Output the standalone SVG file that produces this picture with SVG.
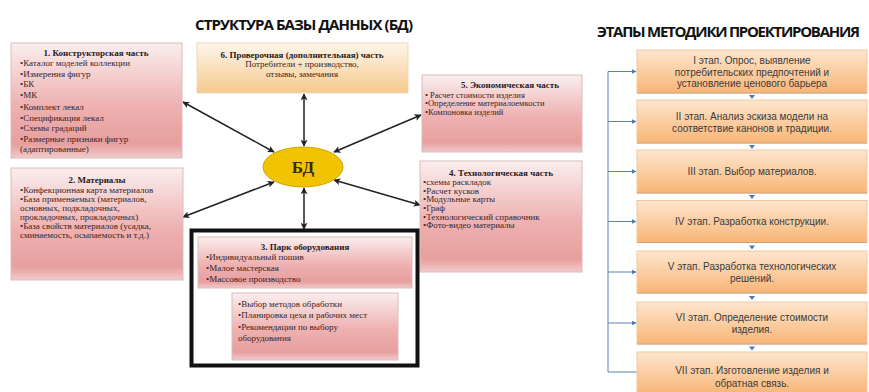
<svg xmlns="http://www.w3.org/2000/svg" width="869" height="392" viewBox="0 0 869 392">
<defs>
<linearGradient id="pink" x1="0" y1="0" x2="0" y2="1">
<stop offset="0" stop-color="#faeeee"/>
<stop offset="0.55" stop-color="#eeb0b0"/>
<stop offset="0.88" stop-color="#e79f9f"/>
<stop offset="1" stop-color="#f2caca"/>
</linearGradient>
<linearGradient id="gold" x1="0" y1="0" x2="0" y2="1">
<stop offset="0" stop-color="#fdf6ea"/>
<stop offset="1" stop-color="#f5c98d"/>
</linearGradient>
<linearGradient id="orange" x1="0" y1="0" x2="0" y2="1">
<stop offset="0" stop-color="#fde6cf"/>
<stop offset="1" stop-color="#f8b575"/>
</linearGradient>
<marker id="ah" viewBox="0 0 10 10" refX="9" refY="5" markerWidth="7" markerHeight="7" orient="auto-start-reverse" markerUnits="userSpaceOnUse">
<path d="M0,0 L10,5 L0,10 L2.5,5 Z" fill="#222"/>
</marker>
<marker id="bh" viewBox="0 0 10 10" refX="9" refY="5" markerWidth="5" markerHeight="5" orient="auto" markerUnits="userSpaceOnUse">
<path d="M0,0 L10,5 L0,10 Z" fill="#4a78b5"/>
</marker>
</defs>
<style>
.title{font-family:"Open Sans","Liberation Sans",sans-serif;font-weight:bold;font-size:15px;fill:#111}
.pbox{fill:url(#pink);stroke:#dcbcbc;stroke-width:1}
.gbox{fill:url(#gold);stroke:#ead9c0;stroke-width:1}
.sbox{fill:url(#orange);stroke:#f2c79c;stroke-width:1}
.shadow{stroke:#c9a07a;stroke-width:1.2}
.t{font-family:"Liberation Serif",serif;font-size:9px;fill:#3a2525}
.t5{font-family:"Liberation Serif",serif;font-size:8.5px;fill:#3a2525}
.th{font-family:"Liberation Serif",serif;font-size:9px;font-weight:bold;fill:#2a1a1a}
.s{font-family:"Liberation Sans",sans-serif;font-size:10px;fill:#3b3b3b;text-anchor:middle}
.arr{stroke:#222;stroke-width:1.5;fill:none;marker-start:url(#ah);marker-end:url(#ah)}
.fb{stroke:#5b82b8;stroke-width:1;fill:none}
.fba{stroke:#5b82b8;stroke-width:1;fill:none;marker-end:url(#bh)}
.dn{fill:#4a78b5}
</style>

<text class="title" x="195" y="30" textLength="218">СТРУКТУРА БАЗЫ ДАННЫХ (БД)</text>
<text class="title" x="597" y="37" textLength="263">ЭТАПЫ МЕТОДИКИ ПРОЕКТИРОВАНИЯ</text>

<g id="connectors">
<line class="arr" x1="183" y1="102" x2="274" y2="152"/>
<line class="arr" x1="304" y1="94" x2="304" y2="146"/>
<line class="arr" x1="421" y1="115" x2="334" y2="152"/>
<line class="arr" x1="183" y1="217" x2="274" y2="182"/>
<line class="arr" x1="420" y1="205" x2="334" y2="180"/>
<line class="arr" x1="304" y1="188" x2="304" y2="229"/>
<path class="fb" d="M637,372 H608 V71.5"/>
<line class="fba" x1="608" y1="71.5" x2="636" y2="71.5"/>
<line class="fba" x1="608" y1="121.5" x2="636" y2="121.5"/>
<line class="fba" x1="608" y1="171.5" x2="636" y2="171.5"/>
<line class="fba" x1="608" y1="221.5" x2="636" y2="221.5"/>
<line class="fba" x1="608" y1="272" x2="636" y2="272"/>
<line class="fba" x1="608" y1="323" x2="636" y2="323"/>
<polygon class="dn" points="749,95 755,95 752,99"/>
<polygon class="dn" points="749,145 755,145 752,149"/>
<polygon class="dn" points="749,195 755,195 752,199"/>
<polygon class="dn" points="749,245.5 755,245.5 752,249.5"/>
<polygon class="dn" points="749,296 755,296 752,300"/>
<polygon class="dn" points="749,346.5 755,346.5 752,350.5"/>
</g>

<g id="node-bd">
<ellipse cx="303" cy="167" rx="40" ry="20" fill="#f2c300" stroke="#d0a500" stroke-width="1"/>
<text x="303" y="173" text-anchor="middle" font-family="Liberation Serif,serif" font-weight="bold" font-size="17" fill="#3a2a00">БД</text>
</g>

<g id="node-1">
<rect class="pbox" x="11" y="43" width="171" height="115"/>
<text class="th" x="96" y="56" text-anchor="middle">1. Конструкторская часть</text>
<text class="t" x="20" y="66">•Каталог моделей коллекции</text>
<text class="t" x="20" y="76.5">•Измерения фигур</text>
<text class="t" x="20" y="87">•БК</text>
<text class="t" x="20" y="98">•МК</text>
<text class="t" x="20" y="110">•Комплект лекал</text>
<text class="t" x="20" y="121">•Спецификация лекал</text>
<text class="t" x="20" y="131">•Схемы градаций</text>
<text class="t" x="20" y="142">•Размерные признаки фигур</text>
<text class="t" x="20" y="151.5">(адаптированные)</text>
</g>

<g id="node-2">
<rect class="pbox" x="11" y="168" width="172" height="112"/>
<text class="th" x="97" y="183" text-anchor="middle">2. Материалы</text>
<text class="t" x="20" y="193">•Конфекционная карта материалов</text>
<text class="t" x="20" y="202">•База применяемых (материалов,</text>
<text class="t" x="20" y="211">основных, подкладочных,</text>
<text class="t" x="20" y="219.5">прокладочных, прокладочных)</text>
<text class="t" x="20" y="228.5">•База свойств материалов (усадка,</text>
<text class="t" x="20" y="237.5">сминаемость, осыпаемость и т.д.)</text>
</g>

<g id="node-6">
<rect class="gbox" x="197" y="43" width="211" height="50"/>
<text class="th" x="302" y="58" text-anchor="middle">6. Проверочная (дополнительная) часть</text>
<text class="t" x="302" y="67" text-anchor="middle">Потребители + производство,</text>
<text class="t" x="302" y="77" text-anchor="middle">отзывы, замечания</text>
</g>

<g id="node-5">
<rect class="pbox" x="422" y="75" width="160" height="77"/>
<text class="th" x="510" y="88" text-anchor="middle">5. Экономическая часть</text>
<text class="t5" x="425" y="97.5">• Расчет стоимости изделия</text>
<text class="t5" x="425" y="106">•Определение материалоемкости</text>
<text class="t5" x="425" y="114.5">•Компоновка изделий</text>
</g>

<g id="node-4">
<rect class="pbox" x="420" y="161" width="162" height="111"/>
<text class="th" x="501" y="176" text-anchor="middle">4. Технологическая часть</text>
<text class="t" x="423" y="184.5">•схемы раскладок</text>
<text class="t" x="423" y="193.5">•Расчет кусков</text>
<text class="t" x="423" y="202">•Модульные карты</text>
<text class="t" x="423" y="211">•Граф</text>
<text class="t" x="423" y="219.5">•Технологический справочник</text>
<text class="t" x="423" y="228">•Фото-видео материалы</text>
</g>

<g id="node-3">
<rect x="191.5" y="230.5" width="226" height="135" fill="#fff" stroke="#111" stroke-width="4"/>
<rect class="pbox" x="198" y="237" width="214" height="51"/>
<text class="th" x="305" y="250" text-anchor="middle">3. Парк оборудования</text>
<text class="t" x="206" y="260">•Индивидуальный пошив</text>
<text class="t" x="206" y="271">•Малое мастерская</text>
<text class="t" x="206" y="282">•Массовое производство</text>
<rect class="pbox" x="232" y="293" width="166" height="67"/>
<text class="t" x="238" y="307">•Выбор методов обработки</text>
<text class="t" x="238" y="318">•Планировка цеха и рабочих мест</text>
<text class="t" x="238" y="330">•Рекомендации по выбору</text>
<text class="t" x="238" y="341">оборудования</text>
</g>

<g id="stage-1">
<rect class="sbox" x="637" y="50" width="230" height="43"/>
<line class="shadow" x1="637" y1="93" x2="867" y2="93"/>
<text class="s" x="752" y="63.5">I этап. Опрос, выявление</text>
<text class="s" x="752" y="75.5">потребительских предпочтений и</text>
<text class="s" x="752" y="87">установление  ценового барьера</text>
</g>
<g id="stage-2">
<rect class="sbox" x="637" y="100" width="230" height="43"/>
<line class="shadow" x1="637" y1="143" x2="867" y2="143"/>
<text class="s" x="752" y="119.5">II этап. Анализ эскиза модели на</text>
<text class="s" x="752" y="131.5">соответствие канонов и традиции.</text>
</g>
<g id="stage-3">
<rect class="sbox" x="637" y="150" width="230" height="43"/>
<line class="shadow" x1="637" y1="193" x2="867" y2="193"/>
<text class="s" x="752" y="175">III этап. Выбор материалов.</text>
</g>
<g id="stage-4">
<rect class="sbox" x="637" y="200.5" width="230" height="42"/>
<line class="shadow" x1="637" y1="242.5" x2="867" y2="242.5"/>
<text class="s" x="752" y="225">IV этап. Разработка конструкции.</text>
</g>
<g id="stage-5">
<rect class="sbox" x="637" y="251" width="230" height="42"/>
<line class="shadow" x1="637" y1="293" x2="867" y2="293"/>
<text class="s" x="752" y="270">V этап. Разработка технологических</text>
<text class="s" x="752" y="282">решений.</text>
</g>
<g id="stage-6">
<rect class="sbox" x="637" y="302" width="230" height="42"/>
<line class="shadow" x1="637" y1="344" x2="867" y2="344"/>
<text class="s" x="752" y="320.5">VI этап. Определение  стоимости</text>
<text class="s" x="752" y="332.5">изделия.</text>
</g>
<g id="stage-7">
<rect class="sbox" x="637" y="352" width="230" height="42"/>
<text class="s" x="752" y="374">VII этап. Изготовление изделия и</text>
<text class="s" x="752" y="386.5">обратная связь.</text>
</g>
</svg>
